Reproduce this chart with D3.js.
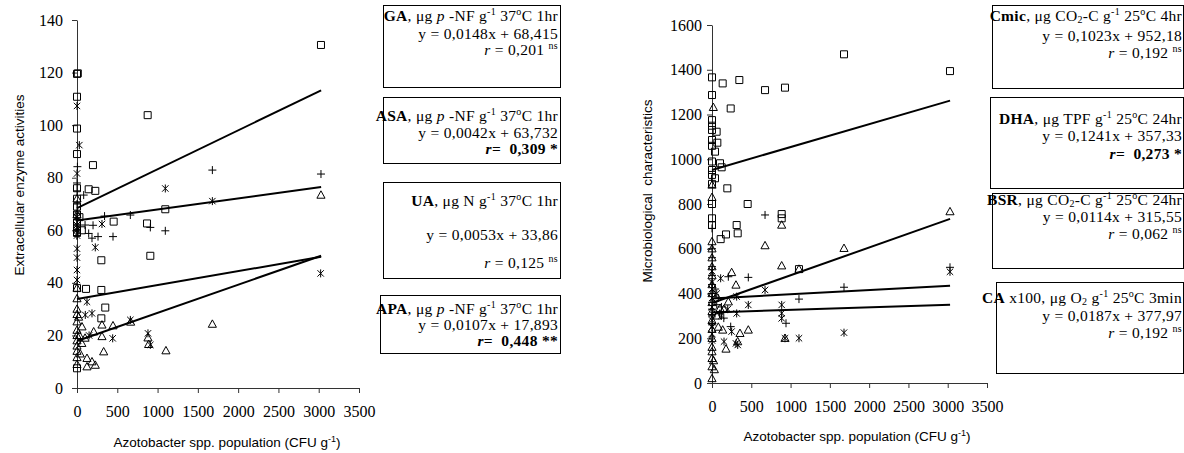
<!DOCTYPE html>
<html lang="en">
<head>
<meta charset="UTF-8">
<title>Azotobacter population vs soil activities</title>
<script src="https://d3js.org/d3.v7.min.js"></script>
<style>
  body { margin: 0; background: #fff; }
  svg text { fill: #000; white-space: pre; }
  .axis-title { font-family: "Liberation Sans", Arial, sans-serif; font-size: 13.5px; }
  .box text { font-family: "Liberation Serif", serif; font-size: 15.5px; letter-spacing: 0.3px; }
</style>
</head>
<body>
<svg id="chart" width="1184" height="453"></svg>
<script>
// ---- data ----
const xTicks = [0, 500, 1000, 1500, 2000, 2500, 3000, 3500];
const yTicksLeft = [0, 20, 40, 60, 80, 100, 120, 140];
const yTicksRight = [0, 200, 400, 600, 800, 1000, 1200, 1400, 1600];
const xTitle = 'Azotobacter spp. population (CFU g';
const yTitleLeft = 'Extracellular enzyme activities';
const yTitleRight = 'Microbiological  characteristics';

// left panel: extracellular enzymes [x, y]
const gaPts = [[0,119.5],[10,119.7],[0,110.8],[0,98.7],[0,89],[0,76],[0,72],[0,69],[0,66],[0,63],[0,61],[0,59],[0,38],[0,7.5],
  [198,84.8],[145,75.6],[227,75],[1096,68],[877,103.8],[3028,130.5],[455,63.3],[869,62.6],[910,50.3],[302,48.6],
  [112,37.7],[302,37.3],[351,30.6],[302,26.5],[30,65],[60,60]];
const asaPts = [[5,84.2],[0,78],[0,75],[83,73.4],[0,70],[0,67],[0,64],[0,62],[0,60],[0,58],[662,65.8],[342,65.4],
  [199,61.9],[1096,59.8],[910,61.1],[447,57.6],[186,57],[261,57.6],[145,58.8],[100,62],[1680,82.9],[3028,81.4]];
const uaPts = [[0,107.3],[29,92.4],[0,81.6],[0,65],[0,62],[0,60],[0,58],[0,53],[0,49.6],[0,44.9],[0,41.1],
  [1096,75.9],[1680,71.1],[310,62.4],[227,53.5],[124,32.8],[103,27.8],[186,28.4],[662,25.9],[443,18.9],
  [881,20.8],[910,16.4],[3024,43.6],[150,20]];
const apaPts = [[3028,73.4],[1680,24.3],[1104,14.2],[889,16.6],[881,19.1],[666,25.1],[447,23.7],[331,13.8],[310,24],
  [310,19.6],[207,21.4],[62,23.3],[227,8.7],[124,8.1],[186,10],[124,11.3],[0,38],[0,34],[0,30],[0,28],[0,25.2],
  [0,22],[0,20],[0,18],[0,16],[0,14],[0,11.6],[0,9],[30,20],[60,17],[40,13],[20,27],[100,19],[0,72],[0,66]];

// right panel: microbiological characteristics [x, y]
const cmicPts = [[0,1366],[0,1287],[0,1175],[0,1150],[0,1131],[0,1086],[0,1060],[0,990],[0,952],[0,930],[0,890],
  [0,800],[0,736],[0,706],[136,1339],[348,1354],[675,1309],[929,1320],[238,1227],[59,1123],[68,1074],[38,1034],
  [102,982],[123,964],[38,915],[195,870],[454,800],[887,755],[887,736],[314,706],[327,669],[178,664],[110,643],
  [1107,509],[1680,1469],[3029,1394]];
const dhaPts = [[3029,766],[17,1232],[0,885],[0,830],[1680,602],[675,614],[887,706],[887,524],[250,494],[305,438],
  [462,237],[356,222],[178,152],[929,200],[327,185],[136,237],[208,363],[102,334],[1107,509],[0,632],[0,600],
  [0,560],[0,520],[0,480],[0,440],[0,400],[0,360],[0,320],[0,280],[0,240],[0,200],[0,160],[0,140],[0,110],[0,73],
  [0,20],[20,100],[30,60],[60,300],[150,330],[80,250]];
const bsrPts = [[3029,497],[1680,225],[1107,200],[929,200],[887,349],[887,312],[887,289],[675,416],[462,349],
  [314,386],[314,311],[305,177],[327,170],[153,185],[110,468],[0,500],[0,450],[0,420],[0,380],[0,340],[0,310],
  [0,280],[0,250],[0,220],[0,190],[60,400],[120,300],[200,330],[250,230]];
const caPts = [[3029,517],[1680,428],[1107,375],[942,267],[462,472],[675,751],[208,475],[238,252],[0,691],[0,600],
  [0,560],[0,520],[0,480],[0,440],[0,400],[0,360],[0,330],[0,300],[0,260],[40,420],[80,380],[120,340],[95,310],
  [150,290],[60,350]];

// regression [slope, intercept], fitted up to the last x
const gaFit = [0.0148, 68.415], asaFit = [0.0042, 63.732], uaFit = [0.0053, 33.86], apaFit = [0.0107, 17.893];
const cmicFit = [0.1023, 952.18], dhaFit = [0.1241, 357.33], bsrFit = [0.0114, 315.55], caFit = [0.0187, 377.97];
const fitMaxX = 3030;

// legend texts: [text, flag]  B bold, I italic, ^ superscript, _ subscript
const gaHead = [['GA','B'],[', μg '],['p','I'],[' -NF g'],['-1','^'],[' 37'],['o','^'],['C 1hr']];
const asaHead = [['ASA','B'],[', μg '],['p','I'],[' -NF g'],['-1','^'],[' 37'],['o','^'],['C 1hr']];
const uaHead = [['UA','B'],[', μg N g'],['-1','^'],[' 37'],['o','^'],['C 1hr']];
const apaHead = [['APA','B'],[', μg '],['p','I'],[' -NF g'],['-1','^'],[' 37'],['o','^'],['C 1hr']];
const cmicHead = [['Cmic','B'],[', μg CO'],['2','_'],['-C g'],['-1','^'],[' 25'],['o','^'],['C 4hr']];
const dhaHead = [['DHA','B'],[', μg TPF g'],['-1','^'],[' 25'],['o','^'],['C 24hr']];
const bsrHead = [['BSR','B'],[', μg CO'],['2','_'],['-C g'],['-1','^'],[' 25'],['o','^'],['C 24hr']];
const caHead = [['CA','B'],[' x100, μg O'],['2','_'],[' g'],['-1','^'],[' 25'],['o','^'],['C 3min']];
const rValues = { ga: ['0,201', 'ns'], asa: ['0,309', '*'], ua: ['0,125', 'ns'], apa: ['0,448', '**'],
  cmic: ['0,192', 'ns'], dha: ['0,273', '*'], bsr: ['0,062', 'ns'], ca: ['0,192', 'ns'] };

// ---- drawing ----
const svg = d3.select('#chart');

// marker shapes, size = half width
const square = { draw(c, r) { c.moveTo(-r, -r); c.lineTo(r, -r); c.lineTo(r, r); c.lineTo(-r, r); c.closePath(); } };
const triangle = { draw(c, r) { c.moveTo(0, -r * 1.15); c.lineTo(r * 1.1, r * 0.85); c.lineTo(-r * 1.1, r * 0.85); c.closePath(); } };
const plus = { draw(c, r) { c.moveTo(-r, 0); c.lineTo(r, 0); c.moveTo(0, -r); c.lineTo(0, r); } };
const star = { draw(c, r) {
  const d = r * 0.8;
  c.moveTo(-d, -d); c.lineTo(d, d); c.moveTo(-d, d); c.lineTo(d, -d);
  c.moveTo(0, -r); c.lineTo(0, r);
} };

function panel(cfg) {
  const x = d3.scaleLinear().domain([0, 3500]).range(cfg.xRange);
  const y = d3.scaleLinear().domain(cfg.yDomain).range(cfg.yRange);
  const g = svg.append('g');

  g.append('g')
    .attr('transform', `translate(0,${cfg.yRange[0]})`)
    .call(d3.axisBottom(x).tickValues(xTicks).tickFormat(d3.format('d'))
      .tickSize(5).tickSizeOuter(0).tickPadding(13))
    .attr('font-family', '"Liberation Serif", serif').attr('font-size', 16);
  g.append('g')
    .attr('transform', `translate(${cfg.xRange[0]},0)`)
    .call(d3.axisLeft(y).tickValues(cfg.yTicks).tickFormat(d3.format('d'))
      .tickSize(5).tickSizeOuter(0).tickPadding(cfg.yPad))
    .attr('font-family', '"Liberation Serif", serif').attr('font-size', 16);
  g.selectAll('.domain, .tick line').attr('stroke', '#333');

  cfg.series.forEach(s => {
    g.append('g').selectAll('path')
      .data(s.pts)
      .join('path')
      .attr('transform', d => `translate(${x(d[0])},${y(d[1])})`)
      .attr('d', d3.symbol().type(s.shape).size(s.size))
      .attr('fill', 'none')
      .attr('stroke', '#000')
      .attr('stroke-width', 1);
  });

  cfg.series.forEach(s => {
    const [m, b] = s.fit;
    g.append('line')
      .attr('x1', x(0)).attr('y1', y(b))
      .attr('x2', x(fitMaxX)).attr('y2', y(b + m * fitMaxX))
      .attr('stroke', '#000').attr('stroke-width', 2);
  });

  // axis titles
  const xt = g.append('text').attr('class', 'axis-title')
    .attr('x', cfg.xTitlePos[0]).attr('y', cfg.xTitlePos[1]).attr('text-anchor', 'middle');
  xt.append('tspan').text(xTitle);
  xt.append('tspan').attr('dy', -5).attr('font-size', '9px').text('-1');
  xt.append('tspan').attr('dy', 5).text(')');

  g.append('text').attr('class', 'axis-title')
    .attr('transform', `translate(${cfg.yTitlePos[0]},${cfg.yTitlePos[1]}) rotate(-90)`)
    .attr('text-anchor', 'middle')
    .text(cfg.yTitle);
}

function rich(g, x, y, segs) {
  const t = g.append('text').attr('x', x).attr('y', y).attr('text-anchor', 'end');
  let shift = 0;
  segs.forEach(([s, f]) => {
    f = f || '';
    const target = f === '^' ? -6 : f === '_' ? 2 : 0;
    const ts = t.append('tspan').attr('dy', target - shift).text(s);
    shift = target;
    if (f === '^' || f === '_') ts.attr('font-size', '10px');
    if (f.includes('B')) ts.attr('font-weight', 'bold');
    if (f.includes('I')) ts.attr('font-style', 'italic');
  });
}

function fmt(v) { return String(v).replace('.', ','); }

function box(b) {
  const g = svg.append('g').attr('class', 'box');
  g.append('rect')
    .attr('x', b.x0 + 0.5).attr('y', b.y0 + 0.5)
    .attr('width', b.x1 - b.x0).attr('height', b.y1 - b.y0)
    .attr('fill', '#fff').attr('stroke', '#000').attr('stroke-width', 1);
  rich(g, b.tx, b.lines[0], b.head);
  rich(g, b.tx, b.lines[1], [[`y = ${fmt(b.fit[0].toFixed(4))}x + ${fmt(b.fit[1])}`]]);
  const [rv, sig] = b.r;
  if (sig === 'ns') rich(g, b.tx, b.lines[2], [['r', 'I'], [` = ${rv} `], ['ns', '^']]);
  else rich(g, b.tx, b.lines[2], [['r', 'BI'], [`=  ${rv} ${sig}`, 'B']]);
}

panel({
  xRange: [77, 359], yDomain: [0, 140], yRange: [388, 20], yTicks: yTicksLeft, yPad: 9,
  xTitlePos: [227, 447], yTitlePos: [24, 185], yTitle: yTitleLeft,
  series: [
    { pts: gaPts, shape: square, size: 3.5, fit: gaFit },
    { pts: asaPts, shape: plus, size: 4, fit: asaFit },
    { pts: uaPts, shape: star, size: 4, fit: uaFit },
    { pts: apaPts, shape: triangle, size: 3.7, fit: apaFit }
  ]
});

panel({
  xRange: [712, 987], yDomain: [0, 1600], yRange: [383, 25], yTicks: yTicksRight, yPad: 5,
  xTitlePos: [857, 441], yTitlePos: [652, 191], yTitle: yTitleRight,
  series: [
    { pts: cmicPts, shape: square, size: 3.5, fit: cmicFit },
    { pts: dhaPts, shape: triangle, size: 3.7, fit: dhaFit },
    { pts: bsrPts, shape: star, size: 4, fit: bsrFit },
    { pts: caPts, shape: plus, size: 4, fit: caFit }
  ]
});

[
  { x0: 383, x1: 560, y0: 5, y1: 87, tx: 558, lines: [21, 39, 55], head: gaHead, fit: gaFit, r: rValues.ga },
  { x0: 383, x1: 560, y0: 97, y1: 163, tx: 558, lines: [121, 138, 154], head: asaHead, fit: asaFit, r: rValues.asa },
  { x0: 383, x1: 560, y0: 182, y1: 278, tx: 558, lines: [206, 240, 268], head: uaHead, fit: uaFit, r: rValues.ua },
  { x0: 380, x1: 560, y0: 295, y1: 353, tx: 558, lines: [314, 330, 346], head: apaHead, fit: apaFit, r: rValues.apa },
  { x0: 992, x1: 1183, y0: 5, y1: 88, tx: 1182, lines: [21, 41, 58], head: cmicHead, fit: cmicFit, r: rValues.cmic },
  { x0: 990, x1: 1183, y0: 97, y1: 188, tx: 1182, lines: [124, 141, 159], head: dhaHead, fit: dhaFit, r: rValues.dha },
  { x0: 992, x1: 1183, y0: 193, y1: 268, tx: 1182, lines: [205, 222, 239], head: bsrHead, fit: bsrFit, r: rValues.bsr },
  { x0: 996, x1: 1183, y0: 282, y1: 373, tx: 1182, lines: [303, 321, 338], head: caHead, fit: caFit, r: rValues.ca }
].forEach(box);
</script>
</body>
</html>
